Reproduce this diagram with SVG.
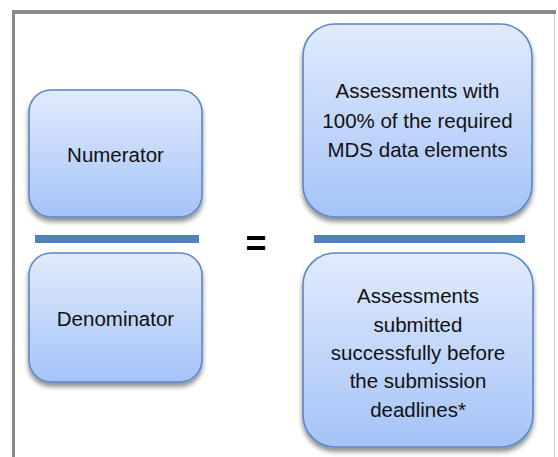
<svg xmlns="http://www.w3.org/2000/svg" width="558" height="457" viewBox="0 0 558 457">
<defs>
<linearGradient id="g" x1="0" y1="0" x2="0" y2="1">
<stop offset="0" stop-color="#e1ebfc"/>
<stop offset="1" stop-color="#a5c3f8"/>
</linearGradient>
<filter id="sh" x="-10%" y="-10%" width="120%" height="125%">
<feGaussianBlur in="SourceAlpha" stdDeviation="2.5"/>
<feOffset dx="0" dy="4" result="b"/>
<feComponentTransfer><feFuncA type="linear" slope="0.45"/></feComponentTransfer>
<feMerge><feMergeNode/><feMergeNode in="SourceGraphic"/></feMerge>
</filter>
</defs>
<style>
.box{fill:url(#g);stroke:#5b87c5;stroke-width:1.6;filter:url(#sh)}
.t{font-family:"Liberation Sans",Arial,sans-serif;font-size:20.5px;fill:#111;text-anchor:middle}
.bar{fill:#4f81bd}
</style>
<rect width="558" height="457" fill="#fff"/>
<g id="frame">
<rect x="12" y="10" width="3" height="447" fill="#8a8a8a"/>
<rect x="12" y="10" width="544" height="4" fill="#8a8a8a"/>
<rect x="554" y="14" width="1" height="443" fill="#d0d0d0"/>
</g>
<g id="numerator">
<rect class="box" x="29" y="90" width="173" height="127" rx="22"/>
<text class="t" x="115.5" y="162">Numerator</text>
</g>
<g id="denominator">
<rect class="box" x="29" y="253" width="173" height="129" rx="22"/>
<text class="t" x="115.5" y="326">Denominator</text>
</g>
<g id="bar-left"><rect class="bar" x="35" y="235" width="164" height="8"/></g>
<g id="equals"><text x="256" y="256" style="font-family:'Liberation Sans',Arial,sans-serif;font-weight:bold;font-size:36px;text-anchor:middle;fill:#000">=</text></g>
<g id="bar-right"><rect class="bar" x="314" y="235" width="211" height="8"/></g>
<g id="numerator-def">
<rect class="box" x="303" y="24" width="229" height="193" rx="32"/>
<text class="t" x="417.5" y="98">Assessments with</text>
<text class="t" x="417.5" y="128">100% of the required</text>
<text class="t" x="417.5" y="157">MDS data elements</text>
</g>
<g id="denominator-def">
<rect class="box" x="303" y="253" width="230" height="194" rx="32"/>
<text class="t" x="418" y="303">Assessments</text>
<text class="t" x="418" y="332">submitted</text>
<text class="t" x="418" y="360">successfully before</text>
<text class="t" x="418" y="388">the submission</text>
<text class="t" x="418" y="417">deadlines*</text>
</g>
<g id="connectors"></g>
</svg>
